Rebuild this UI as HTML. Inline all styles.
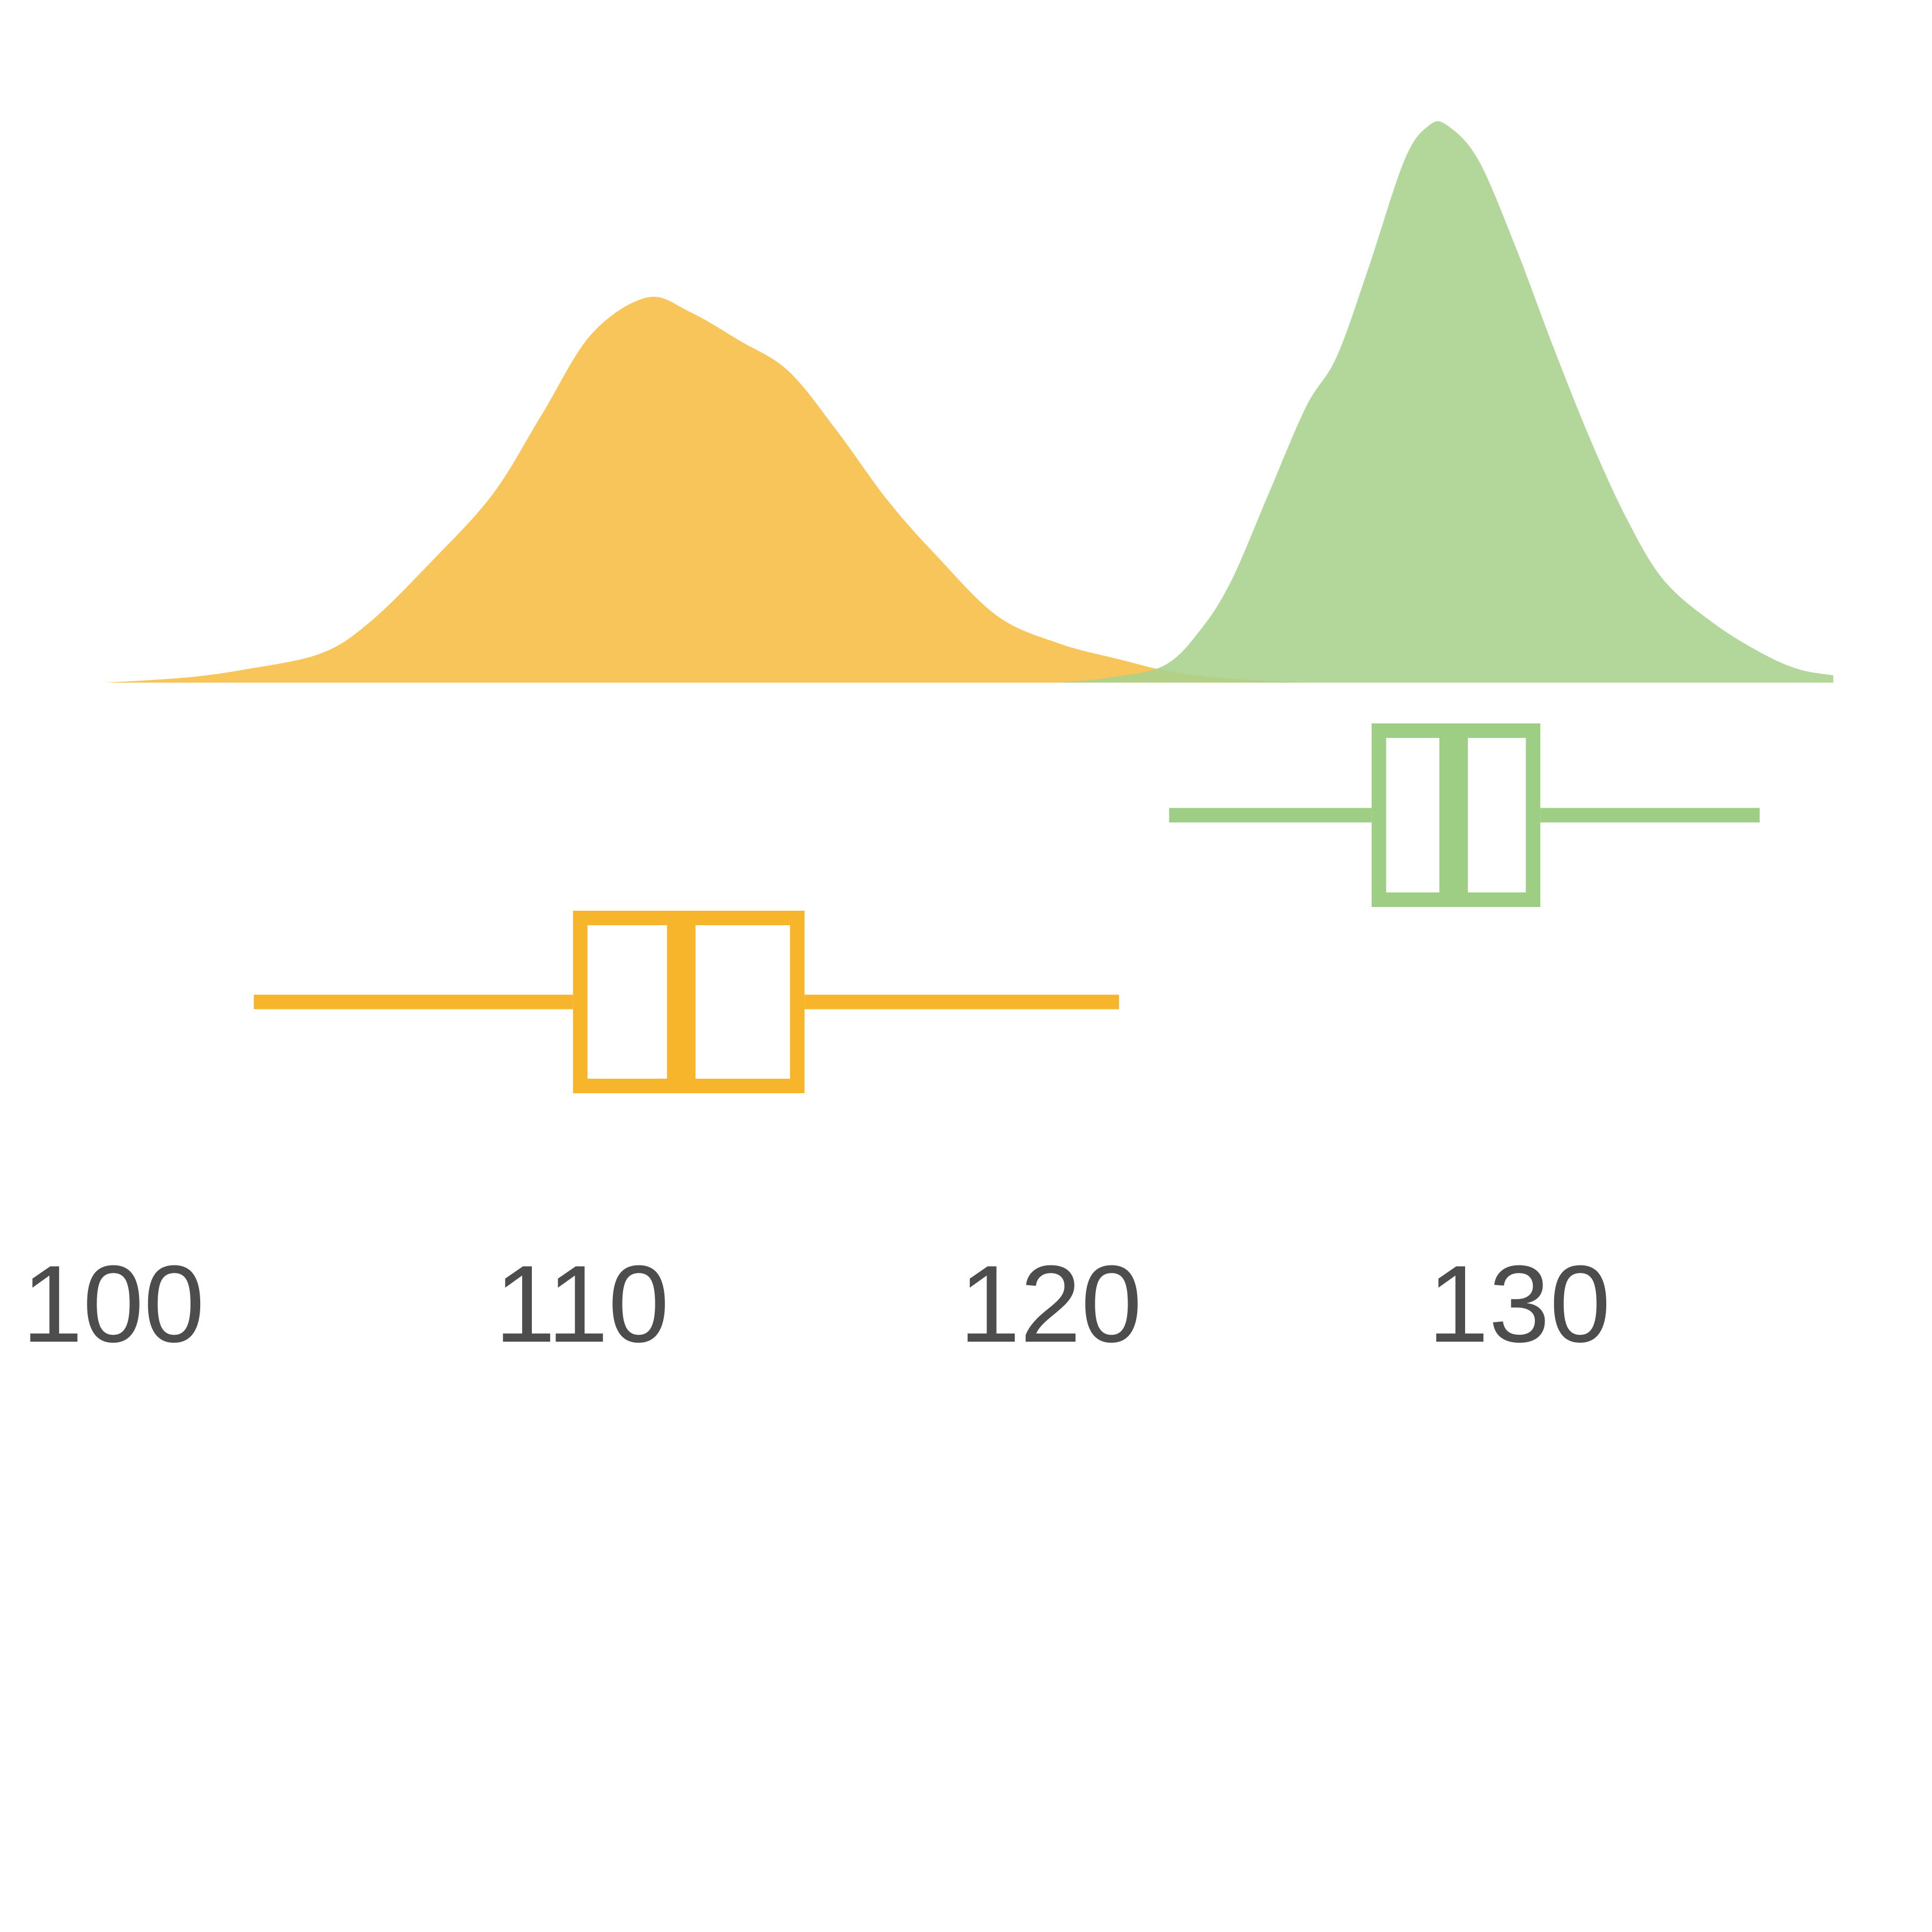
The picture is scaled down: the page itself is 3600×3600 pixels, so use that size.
<!DOCTYPE html>
<html><head><meta charset="utf-8"><style>
html,body{margin:0;padding:0;background:#fff}
svg{display:block}
text{font-family:"Liberation Sans",Arial,sans-serif}
</style></head><body>
<svg id="chart" width="3600" height="3600" viewBox="0 0 3600 3600" xmlns="http://www.w3.org/2000/svg">
<rect width="3600" height="3600" fill="#fff"/>
<g id="dens"></g>
<g id="boxes"></g>
<g id="axis"></g>
</svg>
<script>
const tickValues = [100, 110, 120, 130];
const tickLabels = ["100", "110", "120", "130"];
const orangeX = [99.82,101.53,102.84,104.42,105.47,106.79,108.10,109.15,110.20,111.39,112.31,113.36,114.41,115.46,116.51,117.56,118.87,120.19,121.50,122.55,123.87,125.45];
const orangeD = [0,0.009,0.024,0.052,0.108,0.217,0.338,0.481,0.624,0.690,0.664,0.613,0.558,0.449,0.328,0.228,0.119,0.070,0.041,0.020,0.007,0];
const greenX = [120.14,121.24,122.43,123.22,123.87,124.66,125.45,126.10,126.76,127.55,128.07,128.47,129.13,129.92,130.71,131.50,132.28,133.07,134.12,135.17,135.96,136.70];
const greenD = [0,0.009,0.031,0.097,0.185,0.340,0.494,0.583,0.737,0.936,0.998,0.998,0.936,0.781,0.605,0.439,0.296,0.185,0.108,0.053,0.024,0.013];
const orangeBox = [103.0, 109.81, 112.12, 114.75, 121.46];
const greenBox = [122.53, 126.85, 128.6, 130.45, 135.13];

const NS = "http://www.w3.org/2000/svg";
const xS = v => 211 + (v - 100) * 87.33;
const base = 1272;
const yS = d => base - d * 1040;

function smoothPath(xs, ds){
  const p = xs.map((x,i)=>[xS(x), yS(ds[i])]);
  let s = `M${p[0][0]},${base} L${p[0][0]},${p[0][1]}`;
  for(let i=0;i<p.length-1;i++){
    const p0=p[Math.max(0,i-1)],p1=p[i],p2=p[i+1],p3=p[Math.min(p.length-1,i+2)];
    const c1=[p1[0]+(p2[0]-p0[0])/6,p1[1]+(p2[1]-p0[1])/6];
    const c2=[p2[0]-(p3[0]-p1[0])/6,p2[1]-(p3[1]-p1[1])/6];
    s+=` C${c1[0]},${c1[1]} ${c2[0]},${c2[1]} ${p2[0]},${p2[1]}`;
  }
  s+=` L${p[p.length-1][0]},${base} Z`;
  return s;
}
const dens = document.getElementById('dens');
const po = document.createElementNS(NS,'path');
po.setAttribute('d', smoothPath(orangeX, orangeD));
po.setAttribute('fill', '#f8c55a');


dens.appendChild(po);
const pg = document.createElementNS(NS,'path');
pg.setAttribute('d', smoothPath(greenX, greenD));
pg.setAttribute('fill', '#a8d18c');
pg.setAttribute('fill-opacity', '0.88');


dens.appendChild(pg);

function box(stats, top, bottom, color, name){
  const g = document.createElementNS(NS,'g');
  
  
  const mid = (top+bottom)/2;
  const [mn,q1,md,q3,mx] = stats.map(xS);
  const sw = 27;
  const add = (tag, attrs, nm) => {
    const e = document.createElementNS(NS, tag);
    for (const k in attrs) e.setAttribute(k, attrs[k]);
    
    
    g.appendChild(e);
  };
  add('line',{x1:mn,x2:q1,y1:mid,y2:mid,stroke:color,'stroke-width':sw},'whisker-low');
  add('line',{x1:q3,x2:mx,y1:mid,y2:mid,stroke:color,'stroke-width':sw},'whisker-high');
  add('rect',{x:q1+sw/2,y:top+sw/2,width:q3-q1-sw,height:bottom-top-sw,fill:'#fff',stroke:color,'stroke-width':sw},'box');
  add('line',{x1:md,x2:md,y1:top,y2:bottom,stroke:color,'stroke-width':53},'median');
  document.getElementById('boxes').appendChild(g);
}
box(orangeBox, 1697, 2037, '#f6b52b', 'boxplot-group-a');
box(greenBox, 1348, 1690, '#9ecd84', 'boxplot-group-b');

const ax = document.getElementById('axis');
tickValues.forEach((v,i)=>{
  const t = document.createElementNS(NS,'text');
  t.setAttribute('x', xS(v));
  t.setAttribute('y', 2500);
  t.setAttribute('text-anchor','middle');
  t.setAttribute('font-size','204');
  t.setAttribute('fill','#4d4d4d');
  
  
  t.textContent = tickLabels[i];
  ax.appendChild(t);
});
</script>
</body></html>
